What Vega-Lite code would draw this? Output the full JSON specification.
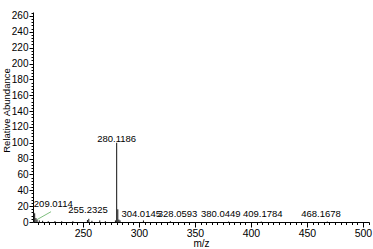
{
  "$schema": "https://vega.github.io/schema/vega-lite/v6.json",
  "width": 336,
  "height": 210,
  "autosize": "none",
  "padding": {"left": 33, "top": 12, "right": 4, "bottom": 27},
  "background": "white",
  "config": {
    "view": {"stroke": null},
    "font": "Liberation Sans",
    "axis": {"grid": false, "domainColor": "#000", "tickColor": "#000", "labelColor": "#000", "titleColor": "#000", "labelFont": "Liberation Sans", "titleFont": "Liberation Sans", "titleFontWeight": "normal"}
  },
  "datasets": {
    "peaks": [
      {"mz": 206.0, "intensity": 12},
      {"mz": 206.9, "intensity": 11},
      {"mz": 208.0, "intensity": 5},
      {"mz": 209.0114, "intensity": 3},
      {"mz": 211.0, "intensity": 2},
      {"mz": 214.0, "intensity": 1.5},
      {"mz": 219.0, "intensity": 1},
      {"mz": 225.0, "intensity": 1.2},
      {"mz": 231.0, "intensity": 1},
      {"mz": 241.0, "intensity": 1},
      {"mz": 254.0, "intensity": 2.5},
      {"mz": 255.2325, "intensity": 4},
      {"mz": 258.0, "intensity": 1.5},
      {"mz": 265.0, "intensity": 2},
      {"mz": 270.0, "intensity": 1},
      {"mz": 279.0, "intensity": 2},
      {"mz": 280.1186, "intensity": 100},
      {"mz": 281.12, "intensity": 16},
      {"mz": 282.1, "intensity": 3},
      {"mz": 283.1, "intensity": 2},
      {"mz": 304.0145, "intensity": 2},
      {"mz": 328.0593, "intensity": 1},
      {"mz": 380.0449, "intensity": 0.6},
      {"mz": 409.1784, "intensity": 0.6},
      {"mz": 468.1678, "intensity": 0.6}
    ],
    "labels": [
      {"text": "280.1186", "lx": 280.1186, "ly": 101.5},
      {"text": "209.0114", "lx": 223.5, "ly": 18.5},
      {"text": "255.2325", "lx": 254.5, "ly": 11},
      {"text": "304.0145", "lx": 302.0, "ly": 6},
      {"text": "328.0593", "lx": 334.5, "ly": 6},
      {"text": "380.0449", "lx": 373.0, "ly": 6},
      {"text": "409.1784", "lx": 410.5, "ly": 6},
      {"text": "468.1678", "lx": 462.5, "ly": 6}
    ],
    "leaders": [
      {"x1": 209.0114, "y1": 3, "x2": 221.5, "y2": 13}
    ]
  },
  "layer": [
    {
      "data": {"name": "peaks"},
      "mark": {"type": "rule", "color": "#111", "strokeWidth": 1},
      "encoding": {
        "x": {"field": "mz", "type": "quantitative", "scale": {"domain": [205.4, 505.4], "nice": false, "zero": false},
          "axis": {"title": "m/z", "values": [250, 300, 350, 400, 450, 500], "tickSize": 5, "labelFontSize": 10.5, "labelPadding": 1, "titleFontSize": 10, "titlePadding": 0}},
        "y": {"field": "intensity", "type": "quantitative", "scale": {"domain": [0, 265], "nice": false},
          "axis": {"title": "Relative Abundance", "values": [0, 20, 40, 60, 80, 100, 120, 140, 160, 180, 200, 220, 240, 260], "tickSize": 4, "labelFontSize": 10, "labelPadding": 1, "titleFontSize": 9.5, "titleX": -24, "titleY": 98, "titleAlign": "center", "titleBaseline": "alphabetic", "titleAngle": -90}},
        "y2": {"datum": 0}
      }
    },
    {
      "data": {"name": "leaders"},
      "mark": {"type": "rule", "color": "#7fbf7f", "strokeWidth": 1},
      "encoding": {
        "x": {"field": "x1", "type": "quantitative",
          "axis": {"orient": "bottom", "title": null, "labels": false, "domain": false, "tickSize": 2.5, "values": [210, 215, 220, 225, 230, 235, 240, 245, 255, 260, 265, 270, 275, 280, 285, 290, 295, 305, 310, 315, 320, 325, 330, 335, 340, 345, 355, 360, 365, 370, 375, 380, 385, 390, 395, 405, 410, 415, 420, 425, 430, 435, 440, 445, 455, 460, 465, 470, 475, 480, 485, 490, 495, 505]}},
        "y": {"field": "y1", "type": "quantitative",
          "axis": {"orient": "left", "title": null, "labels": false, "domain": false, "tickSize": 2, "values": [4, 8, 12, 16, 24, 28, 32, 36, 44, 48, 52, 56, 64, 68, 72, 76, 84, 88, 92, 96, 104, 108, 112, 116, 124, 128, 132, 136, 144, 148, 152, 156, 164, 168, 172, 176, 184, 188, 192, 196, 204, 208, 212, 216, 224, 228, 232, 236, 244, 248, 252, 256, 264]}},
        "x2": {"field": "x2"},
        "y2": {"field": "y2"}
      }
    },
    {
      "data": {"name": "labels"},
      "mark": {"type": "text", "fontSize": 9.5, "baseline": "alphabetic", "align": "center", "color": "#000", "font": "Liberation Sans"},
      "encoding": {
        "x": {"field": "lx", "type": "quantitative", "axis": null},
        "y": {"field": "ly", "type": "quantitative", "axis": null},
        "text": {"field": "text"}
      }
    }
  ],
  "resolve": {"axis": {"x": "independent", "y": "independent"}}
}
